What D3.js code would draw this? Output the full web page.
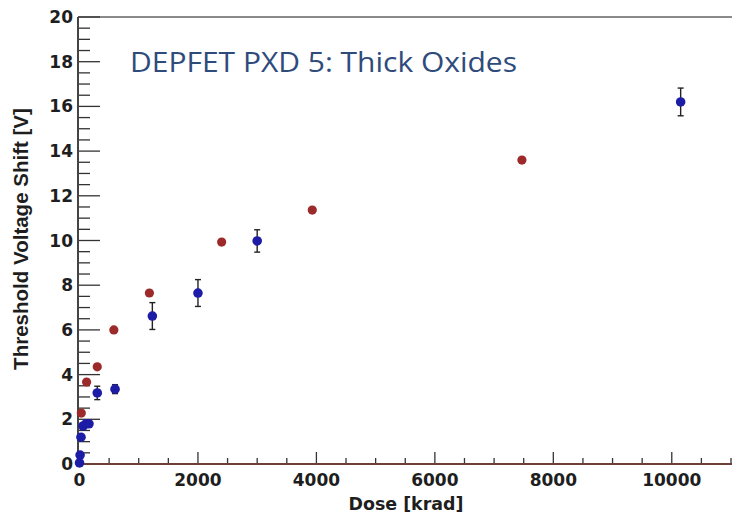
<!DOCTYPE html>
<html><head><meta charset="utf-8">
<script src="https://cdn.jsdelivr.net/npm/d3@7"></script>
<style>body{margin:0;background:#fff}svg{display:block}</style>
</head><body>
<svg id="c" width="732" height="516"></svg>
<script>
// Data
const blueDose  = [0, 10, 25, 60, 110, 160, 300, 600, 1230, 2000, 3000, 10150];
const blueShift = [0.05, 0.4, 1.2, 1.7, 1.8, 1.8, 3.18, 3.35, 6.62, 7.65, 9.98, 16.2];
const blueErr   = [0.1, 0.1, 0.1, 0.15, 0.15, 0.15, 0.3, 0.2, 0.6, 0.6, 0.5, 0.62];
const redDose   = [30, 120, 300, 580, 1180, 2400, 3930, 7470];
const redShift  = [2.28, 3.67, 4.35, 6.0, 7.65, 9.93, 11.36, 13.6];
const xTicks = [0, 2000, 4000, 6000, 8000, 10000];
const yTicks = [0, 2, 4, 6, 8, 10, 12, 14, 16, 18, 20];
const titleText = "DEPFET PXD 5: Thick Oxides";
const xTitle = "Dose [krad]";
const yTitle = "Threshold Voltage Shift [V]";

const svg = d3.select("#c");
const x = d3.scaleLinear().domain([0, 11000]).range([79.5, 731]);
const y = d3.scaleLinear().domain([0, 20]).range([464, 17]);

// frame top line
svg.append("line").attr("x1", 78).attr("x2", 732).attr("y1", y(20)).attr("y2", y(20))
  .attr("stroke", "#8a8a8a").attr("stroke-width", 2);

// y axis
const yMinor = d3.range(0, 20.01, 0.5);
svg.append("g").selectAll("line").data(yMinor).join("line")
  .attr("x1", 78).attr("x2", d => (Math.abs(d % 2) < 1e-6) ? 100 : 90)
  .attr("y1", d => y(d)).attr("y2", d => y(d))
  .attr("stroke", "#333").attr("stroke-width", 1.3);
svg.append("line").attr("x1", 78).attr("x2", 78).attr("y1", y(20)).attr("y2", y(0))
  .attr("stroke", "#444").attr("stroke-width", 2);
svg.append("g").selectAll("text").data(yTicks).join("text")
  .attr("x", 73).attr("y", d => y(d) + 6)
  .attr("text-anchor", "end")
  .attr("font-family", "DejaVu Sans").attr("font-weight", "bold").attr("font-size", 17)
  .attr("fill", "#1e1e1e").text(d => d);

// x axis
const xMinor = d3.range(0, 11001, 500);
svg.append("g").selectAll("line").data(xMinor).join("line")
  .attr("x1", d => x(d)).attr("x2", d => x(d))
  .attr("y1", y(0)).attr("y2", d => (d % 2000 === 0) ? y(0) - 12 : y(0) - 6)
  .attr("stroke", "#333").attr("stroke-width", 1.3);
svg.append("line").attr("x1", 78).attr("x2", 732).attr("y1", y(0)).attr("y2", y(0))
  .attr("stroke", "#6e3f37").attr("stroke-width", 2);
svg.append("g").selectAll("text").data(xTicks).join("text")
  .attr("x", d => x(d)).attr("y", 486)
  .attr("text-anchor", "middle")
  .attr("font-family", "DejaVu Sans").attr("font-weight", "bold").attr("font-size", 17)
  .attr("fill", "#1e1e1e").text(d => d);

function fit(sel, target) {
  const n = sel.node();
  const fs = parseFloat(sel.attr("font-size"));
  const w = n.getComputedTextLength();
  sel.attr("font-size", fs * target / w);
}

const xt = svg.append("text").attr("x", 406).attr("y", 510).attr("text-anchor", "middle")
  .attr("font-family", "DejaVu Sans").attr("font-weight", "bold").attr("font-size", 16)
  .attr("fill", "#1e1e1e").text(xTitle);
fit(xt, 115);

const yt = svg.append("text").attr("transform", "translate(28,239) rotate(-90)")
  .attr("text-anchor", "middle")
  .attr("font-family", "Liberation Sans").attr("font-weight", "bold").attr("font-size", 16)
  .attr("fill", "#1e1e1e").text(yTitle);
fit(yt, 262);

svg.append("text").attr("x", 130).attr("y", 72)
  .attr("font-family", "Open Sans").attr("font-size", 27)
  .attr("textLength", 387).attr("lengthAdjust", "spacingAndGlyphs")
  .attr("fill", "#2f4b7c").text(titleText);

// red series
const red = redDose.map((d, i) => ({d, v: redShift[i]}));
svg.append("g").selectAll("circle").data(red).join("circle")
  .attr("cx", p => x(p.d)).attr("cy", p => y(p.v)).attr("r", 4.6)
  .attr("fill", "#9c2a2a");

// blue series
const blue = blueDose.map((d, i) => ({d, v: blueShift[i], e: blueErr[i]}));
const eb = svg.append("g").attr("stroke", "#222").attr("stroke-width", 1.4);
blue.filter(p => p.e >= 0.2).forEach(p => {
  eb.append("line").attr("x1", x(p.d)).attr("x2", x(p.d)).attr("y1", y(p.v - p.e)).attr("y2", y(p.v + p.e));
  [p.v - p.e, p.v + p.e].forEach(v => eb.append("line")
    .attr("x1", x(p.d) - 3).attr("x2", x(p.d) + 3).attr("y1", y(v)).attr("y2", y(v)));
});
svg.append("g").selectAll("circle").data(blue).join("circle")
  .attr("cx", p => x(p.d)).attr("cy", p => y(p.v)).attr("r", 4.8)
  .attr("fill", "#1c1ca6");
</script>
</body></html>
